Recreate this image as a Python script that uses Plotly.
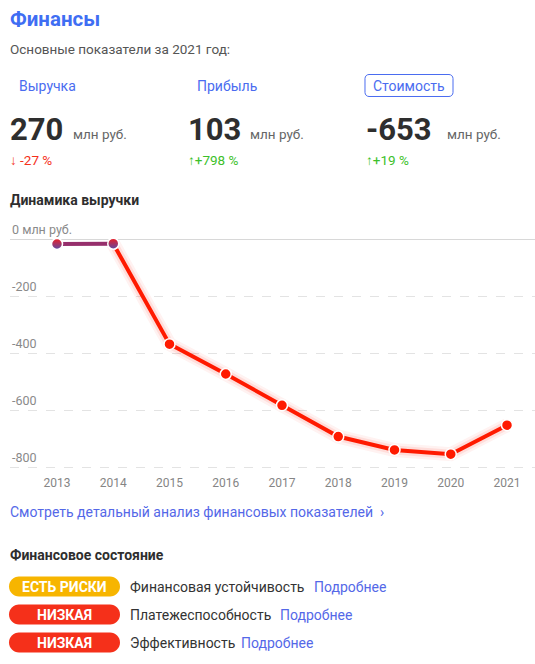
import plotly.graph_objects as go

# --- data -----------------------------------------------------------------
years = [2013, 2014, 2015, 2016, 2017, 2018, 2019, 2020, 2021]
values = [-16, -15, -368, -473, -583, -693, -740, -755, -653]

y_ticks = [0, -200, -400, -600, -800]
y_tick_labels = ["0 млн руб.", "-200", "-400", "-600", "-800"]

kpi_names = ["Выручка", "Прибыль", "Стоимость"]
kpi_values = ["270", "103", "-653"]
kpi_changes = ["↓ -27 %", "↑+798 %", "↑+19 %"]
kpi_change_up = [False, True, True]

status_badges = ["ЕСТЬ РИСКИ", "НИЗКАЯ", "НИЗКАЯ"]
status_badge_colors = ["#f7b500", "#f5301a"]
status_names = ["Финансовая устойчивость", "Платежеспособность", "Эффективность"]

# --- page geometry (pixels) ------------------------------------------------
PAGE_W, PAGE_H = 535, 664
L, R, T, B = 10, 535, 215, 470
W, H = R - L, B - T
PX_PER_UNIT = 57 / 200
Y_TOP = (239.5 - T) / PX_PER_UNIT
Y_BOTTOM = -800 - (B - 467) / PX_PER_UNIT
FONT = "Roboto"
BLUE = "#4a6cf0"
LINK = "#5468e8"
DARK = "#2e2e2e"
GREY = "#666666"


def px(x, y):
    """Pixel position on the page -> paper coordinates."""
    return (x - L) / W, (B - y) / H


annotations = []


def text(s, x, y, size=13, color=DARK, weight=400, xanchor="left"):
    ax, ay = px(x - (2 if xanchor == "left" else 0), y)
    annotations.append(dict(
        text=s, x=ax, y=ay, xref="paper", yref="paper",
        xanchor=xanchor, yanchor="middle", showarrow=False,
        font=dict(family=FONT, size=size, color=color, weight=weight),
    ))


def rounded(x0, y0, x1, y1, r):
    k = 0.5523 * r
    pts = [
        ("M", [(x0 + r, y0)]),
        ("L", [(x1 - r, y0)]),
        ("C", [(x1 - r + k, y0), (x1, y0 + r - k), (x1, y0 + r)]),
        ("L", [(x1, y1 - r)]),
        ("C", [(x1, y1 - r + k), (x1 - r + k, y1), (x1 - r, y1)]),
        ("L", [(x0 + r, y1)]),
        ("C", [(x0 + r - k, y1), (x0, y1 - r + k), (x0, y1 - r)]),
        ("L", [(x0, y0 + r)]),
        ("C", [(x0, y0 + r - k), (x0 + r - k, y0), (x0 + r, y0)]),
    ]
    parts = []
    for cmd, coords in pts:
        c = " ".join("%.5f,%.5f" % px(a, b) for a, b in coords)
        parts.append(cmd + " " + c)
    return " ".join(parts) + " Z"


shapes = []

# --- header ------------------------------------------------------------
text("Финансы", 10, 19, size=20.5, color="#3f6ef3", weight=700)
text("Основные показатели за 2021 год:", 10, 49, size=13.5, color="#555555")

col_x = [10, 188, 366]
name_x = [19, 197, 375]
for i in range(3):
    if i == 2:
        shapes.append(dict(type="path", xref="paper", yref="paper",
                           path=rounded(365, 74.5, 453, 96.5, 4),
                           line=dict(color=BLUE, width=1), fillcolor="white"))
        text(kpi_names[i], 409, 85.5, size=14, color=BLUE, xanchor="center")
    else:
        text(kpi_names[i], name_x[i], 85.5, size=14, color=BLUE)
    text(kpi_values[i], col_x[i], 129, size=31, color=DARK, weight=700)
    num_w = [54, 53, 72][i]
    text("млн руб.", col_x[i] + num_w + 9, 134, size=13.5, color=GREY)
    text(kpi_changes[i], col_x[i], 160, size=13.5,
         color="#3cbf2a" if kpi_change_up[i] else "#f5301a")

text("Динамика выручки", 10, 200, size=14, color=DARK, weight=700)

# --- footer ------------------------------------------------------------
text("Смотреть детальный анализ финансовых показателей  ›", 10, 512,
     size=14, color=LINK)
text("Финансовое состояние", 10, 555, size=14, color=DARK, weight=700)

row_y = [586.5, 614.5, 642.5]
more_x = [314, 280, 241]
for i in range(3):
    col = status_badge_colors[0] if i == 0 else status_badge_colors[1]
    shapes.append(dict(type="path", xref="paper", yref="paper",
                       path=rounded(9, row_y[i] - 10, 120, row_y[i] + 10, 10),
                       line=dict(width=0), fillcolor=col))
    text(status_badges[i], 64.5, row_y[i] + 0.5, size=14, color="white",
         weight=700, xanchor="center")
    text(status_names[i], 130, row_y[i], size=14, color="#333333")
    text("Подробнее", more_x[i], row_y[i], size=14, color=LINK)

# y-axis labels sit just above their gridlines, at the left edge
for v, lab in zip(y_ticks, y_tick_labels):
    annotations.append(dict(
        text=lab, x=0, y=v, xref="paper", yref="y",
        xanchor="left", yanchor="bottom", showarrow=False, yshift=0,
        font=dict(family=FONT, size=12.5, color="#8a8a8a"),
    ))

# --- chart -------------------------------------------------------------
fig = go.Figure()

# soft glow under the line
for w, a in [(14, 0.06), (9, 0.10)]:
    fig.add_trace(go.Scatter(
        x=years[1:], y=values[1:], mode="lines",
        line=dict(color="rgba(255,40,20,%s)" % a, width=w),
        hoverinfo="skip", showlegend=False,
    ))

fig.add_trace(go.Scatter(
    x=years[1:], y=values[1:], mode="lines+markers",
    line=dict(color="#ff1a00", width=4),
    marker=dict(size=11, color="#ff1a00", line=dict(color="white", width=1.5)),
    showlegend=False,
))

# first segment drawn in the purple-red tone
fig.add_trace(go.Scatter(
    x=years[:2], y=values[:2], mode="lines+markers",
    line=dict(color="#962f6c", width=4),
    marker=dict(size=11, color="#f01e22",
                gradient=dict(type="vertical", color="#5a4aa6"),
                line=dict(color="white", width=1.5)),
    showlegend=False,
))

fig.update_layout(
    width=PAGE_W, height=PAGE_H,
    margin=dict(l=L, r=PAGE_W - R, t=T, b=PAGE_H - B, pad=0),
    paper_bgcolor="white", plot_bgcolor="white",
    annotations=annotations, shapes=shapes,
    font=dict(family=FONT),
    xaxis=dict(
        range=[2013 - 47 / 56.25, 2021 + 28 / 56.25],
        tickvals=years, ticktext=[str(y) for y in years],
        showgrid=False, zeroline=False, showline=False, ticks="",
        tickfont=dict(size=12, color="#858585", family=FONT),
        ticklabelstandoff=4,
        fixedrange=True,
    ),
    yaxis=dict(
        range=[Y_BOTTOM, Y_TOP],
        tickvals=y_ticks, showticklabels=False,
        showgrid=True, gridcolor="#e3e3e3", griddash="dash", gridwidth=1,
        zeroline=True, zerolinecolor="#d8d8d8", zerolinewidth=1,
        showline=False, ticks="",
        fixedrange=True,
    ),
)

fig.write_html("out.html")
